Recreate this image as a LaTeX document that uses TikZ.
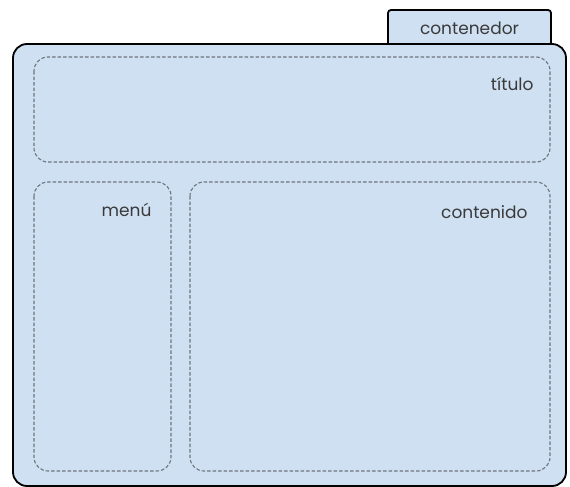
\documentclass[tikz,border=0pt]{standalone}
\usepackage{fontspec}
\setmainfont{Poppins}
\usepackage{tikz}
\usetikzlibrary{positioning}
\definecolor{fondo}{HTML}{CFE0F2}
\definecolor{texto}{HTML}{3A3A3A}
\definecolor{borde}{HTML}{6E757C}

\begin{document}
\begin{tikzpicture}[x=1pt,y=-1pt]
\tikzstyle{every node}=[font=\fontsize{17}{20}\selectfont, text=texto]
\tikzstyle{caja}=[draw=black, line width=1.8pt, fill=fondo, inner sep=0pt]
\tikzstyle{zona}=[draw=borde, line width=1.1pt, dash pattern=on 3.5pt off 2pt, rounded corners=14pt]
\useasboundingbox (0,0) rectangle (570,487);
% pestaña y contenedor
\draw [caja, rounded corners=3pt] (388,43) -- (388,10) -- (551,10) -- (551,43);
\node (pestana) at (469.5,28) {contenedor};
\draw [caja, rounded corners=14pt] (13,44) rectangle (566,486);
% zonas interiores
\draw [zona] (34,57) rectangle (550,162);
\draw [zona] (34,182) rectangle (171,471);
\draw [zona] (190,182) rectangle (550,471);
\node [anchor=base east] (titulo) at (537,90) {título};
\node [anchor=base east] (menu) at (155,216) {menú};
\node [anchor=base east] (contenido) at (531,218) {contenido};
\end{tikzpicture}
\end{document}
